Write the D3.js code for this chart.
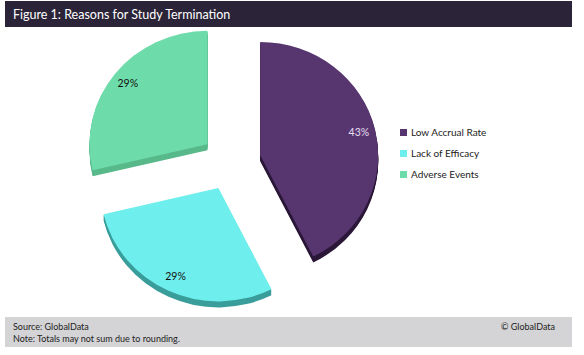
<!DOCTYPE html>
<html><head><meta charset="utf-8">
<script src="https://cdn.jsdelivr.net/npm/d3@7"></script>
<style>
html,body{margin:0;padding:0;background:#fff;}
svg{display:block;font-family:Lato,"Open Sans",sans-serif;}
</style></head>
<body>
<svg id="chart" width="584" height="355"></svg>
<script>
const categories = ["Low Accrual Rate", "Lack of Efficacy", "Adverse Events"];
const values = [43, 29, 29];
const labels = ["43%", "29%", "29%"];
const title = "Figure 1: Reasons for Study Termination";
const sourceText = "Source: GlobalData";
const noteText = "Note: Totals may not sum due to rounding.";
const copyText = "© GlobalData";

const topColors = ["#573670", "#6eeeec", "#6edcaa"];
const sideColors = ["#2b1738", "#3a9e9b", "#58b98a"];
const labelColors = ["#e6def0", "#111", "#111"];

const svg = d3.select("#chart");

// title bar
svg.append("rect").attr("x",5).attr("y",1).attr("width",567).attr("height",26).attr("fill","#2b2438");
svg.append("text").attr("x",13).attr("y",19).attr("fill","#fff").attr("font-size",12.5)
  .attr("font-family","Lato, sans-serif").text(title);

// footer
svg.append("rect").attr("x",5).attr("y",317).attr("width",567).attr("height",30).attr("fill","#d4d4d6");
svg.append("text").attr("x",13).attr("y",330).attr("font-size",9).attr("fill","#222").text(sourceText);
svg.append("text").attr("x",13).attr("y",342).attr("font-size",9).attr("fill","#222").text(noteText);
svg.append("text").attr("x",555).attr("y",330).attr("font-size",9).attr("fill","#222").attr("text-anchor","end").text(copyText);

// pie
const cx = 231, cy = 162, r = 118, yScale = 0.96, explode = 30, depth = 6;
const pie = d3.pie().sort(null).value(d => d)(values);
const arc = d3.arc().innerRadius(0).outerRadius(r);

const offset = d => {
  const a = (d.startAngle + d.endAngle) / 2;
  return [explode * Math.sin(a), -explode * Math.cos(a)];
};

for (let k = depth; k >= 1; k--) {
  svg.append("g").attr("transform", `translate(${cx},${cy + k}) scale(1,${yScale})`)
    .selectAll("path").data(pie).join("path")
    .attr("transform", d => `translate(${offset(d)})`)
    .attr("d", arc).attr("fill", (d,i) => sideColors[i]);
}
const topG = svg.append("g").attr("transform", `translate(${cx},${cy}) scale(1,${yScale})`);
topG.selectAll("path").data(pie).join("path")
  .attr("transform", d => `translate(${offset(d)})`)
  .attr("d", arc).attr("fill", (d,i) => topColors[i]);

// labels
const labelArc = d3.arc().innerRadius(r * 0.86).outerRadius(r * 0.86);
svg.append("g").selectAll("text").data(pie).join("text")
  .attr("x", d => { const o = offset(d); return cx + o[0] + labelArc.centroid(d)[0]; })
  .attr("y", d => { const o = offset(d); return cy + (o[1] + labelArc.centroid(d)[1]) * yScale + 3.5; })
  .attr("text-anchor","middle").attr("font-size",10.5)
  .attr("fill", (d,i) => labelColors[i]).text((d,i) => labels[i]);

// legend
const legend = svg.append("g").attr("transform","translate(400,129)");
const rowY = d3.scalePoint().domain(categories).range([0, 42]);
categories.forEach((c,i) => {
  legend.append("rect").attr("x",0).attr("y",rowY(c)).attr("width",7).attr("height",7).attr("fill",topColors[i]);
  legend.append("text").attr("x",11).attr("y",rowY(c)+7).attr("font-size",10).attr("fill","#222").text(c);
});
</script>
</body></html>
